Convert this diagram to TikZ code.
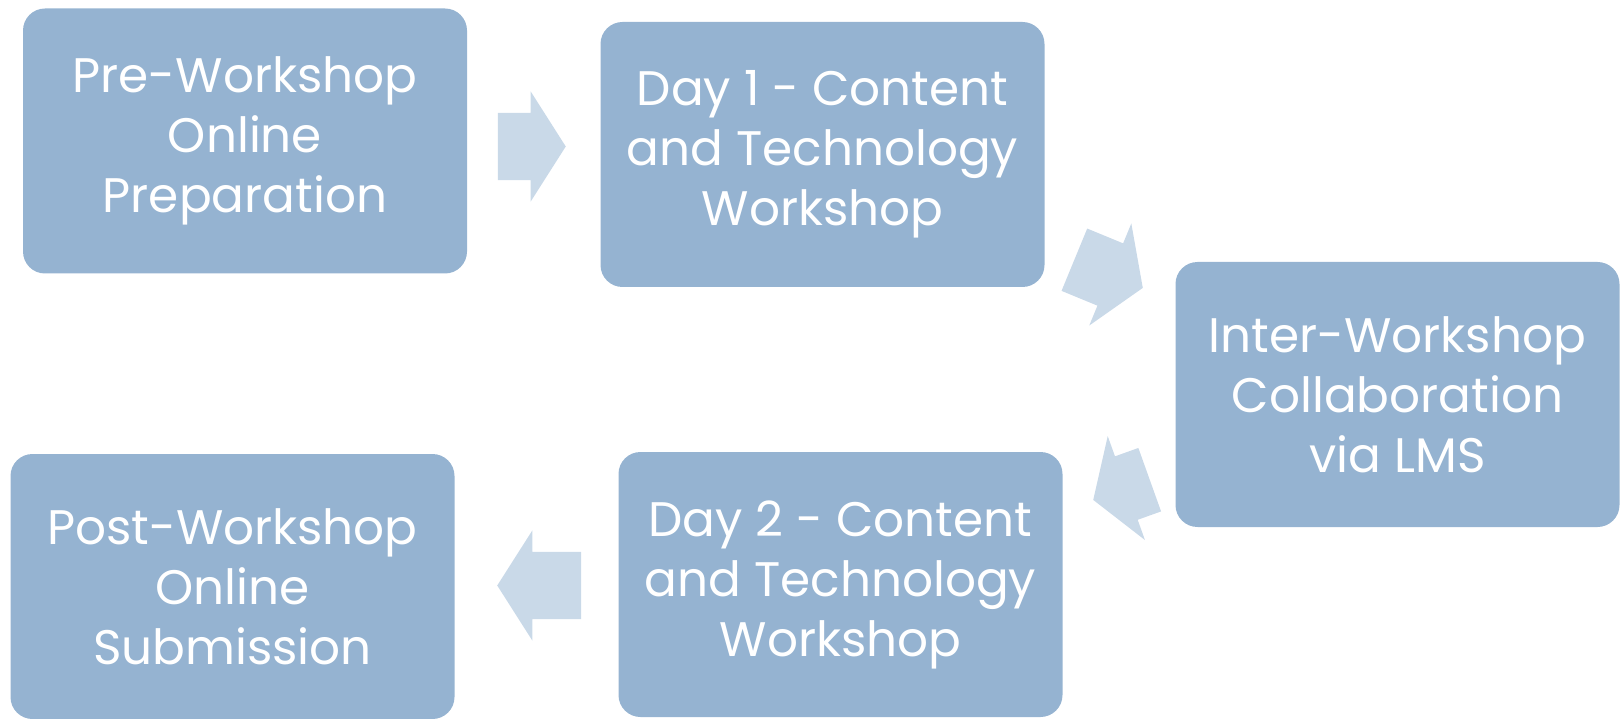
\documentclass[tikz,border=0pt]{standalone}
\usepackage{fontspec}
\setmainfont{Poppins}
\usetikzlibrary{shapes.arrows}
\definecolor{boxblue}{RGB}{149,179,209}
\definecolor{arrowblue}{RGB}{201,217,232}

\begin{document}
\begin{tikzpicture}[x=1pt,y=1pt,
  stage/.style={fill=boxblue,rounded corners=22pt,minimum width=444pt,minimum height=265pt,
    inner sep=0pt,text=white,align=center,font=\fontsize{48.5}{60}\selectfont},
  flow/.style={single arrow,fill=arrowblue,inner xsep=0pt,inner ysep=33.5pt,anchor=tip,
    single arrow head extend=21.5pt,single arrow tip angle=115}]

\useasboundingbox (0,0) rectangle (1621,718);

% the five stages
\node[stage] (pre) at (245,577) {Pre-Workshop\\Online\\Preparation};
\node[stage] (day1) at (822.5,563.5) {Day 1 - Content\\and Technology\\Workshop};
\node[stage] (inter) at (1397.5,323.5) {Inter-Workshop\\Collaboration\\via LMS};
\node[stage] (day2) at (840.5,133.5) {Day 2 - Content\\and Technology\\Workshop};
\node[stage] (post) at (232.5,131.5) {Post-Workshop\\Online\\Submission};

% block arrows between them, placed by their tips
\node[flow,minimum height=68pt] (a1) at (566,571.5) {};
\node[flow,minimum height=74pt,rotate=-22.4] (a2) at (1143,430) {};
\node[flow,minimum height=60pt,rotate=199.7] (a3) at (1093,218) {};
\node[flow,minimum height=84pt,rotate=180] (a4) at (497,132.5) {};

\end{tikzpicture}
\end{document}
